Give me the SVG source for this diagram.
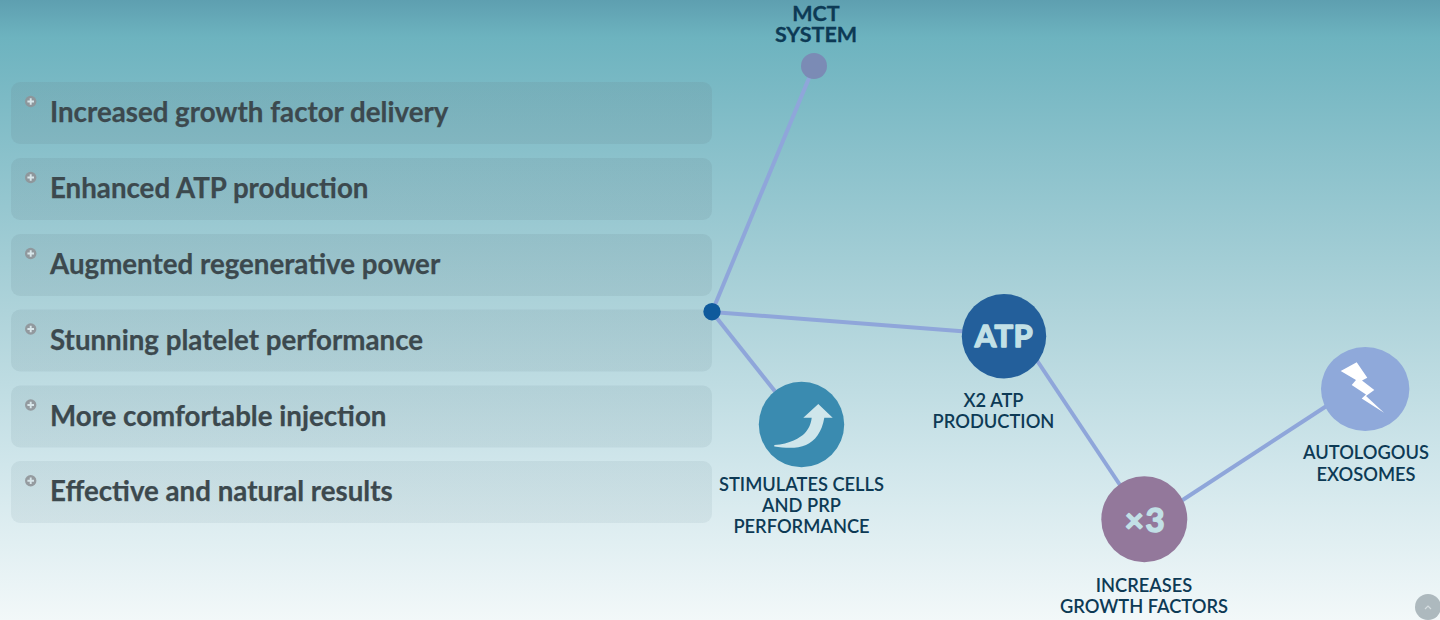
<svg xmlns="http://www.w3.org/2000/svg" width="1440" height="620" viewBox="0 0 1440 620">
<style>
.panel{fill:url(#pg)}
.item{font:700 27.700px Lato,"Liberation Sans",sans-serif;fill:#3c494e;stroke:#3c494e;stroke-width:.25}
.lab{font:600 18.300px Lato,"Liberation Sans",sans-serif;fill:#0d3a55;text-anchor:middle}
.big{font:700 31px Lato,"Liberation Sans",sans-serif;fill:#c2e0e6;stroke:#c2e0e6;stroke-width:1.500;stroke-linejoin:round;text-anchor:middle}
.conn{stroke:#8fa6da;stroke-width:4;fill:none}
.plus{fill:#8f9498;fill-opacity:.9}
.pl{stroke:#d8e6ea;stroke-width:1.900;fill:none}
</style>
<defs>
<linearGradient id="bg" x1="0" y1="0" x2="0" y2="1">
<stop offset="0" stop-color="#5e9fb0"/>
<stop offset=".06" stop-color="#6db3bf"/>
<stop offset=".25" stop-color="#8ac1cb"/>
<stop offset=".5" stop-color="#aed3da"/>
<stop offset=".75" stop-color="#d0e6eb"/>
<stop offset="1" stop-color="#f2f8f9"/>
</linearGradient>
<linearGradient id="pg" gradientUnits="userSpaceOnUse" x1="0" y1="82" x2="0" y2="523">
<stop offset="0" stop-color="#6a8a94" stop-opacity=".2"/>
<stop offset="1" stop-color="#6a8a94" stop-opacity=".11"/>
</linearGradient>
<g id="b"><circle r="5.700" class="plus"/><path class="pl" d="M-3.300 0H3.300M0-3.300V3.300"/></g>
</defs>
<rect width="1440" height="620" fill="url(#bg)"/>
<g id="list">
<g id="item1"><rect class="panel" x="11" y="82" width="701" height="62" rx="9"/><use href="#b" x="30.700" y="101.500"/><text class="item" x="50" y="122">Increased growth factor delivery</text></g>
<g id="item2"><rect class="panel" x="11" y="158" width="701" height="62" rx="9"/><use href="#b" x="30.700" y="177.500"/><text class="item" x="50" y="198">Enhanced ATP production</text></g>
<g id="item3"><rect class="panel" x="11" y="234" width="701" height="62" rx="9"/><use href="#b" x="30.700" y="253.500"/><text class="item" x="50" y="274">Augmented regenerative power</text></g>
<g id="item4"><rect class="panel" x="11" y="309.500" width="701" height="62" rx="9"/><use href="#b" x="30.700" y="329"/><text class="item" x="50" y="350">Stunning platelet performance</text></g>
<g id="item5"><rect class="panel" x="11" y="385.500" width="701" height="62" rx="9"/><use href="#b" x="30.700" y="405"/><text class="item" x="50" y="426">More comfortable injection</text></g>
<g id="item6"><rect class="panel" x="11" y="461" width="701" height="62" rx="9"/><use href="#b" x="30.700" y="480.700"/><text class="item" x="50" y="501">Effective and natural results</text></g>
</g>
<g id="connectors">
<path class="conn" d="M712 312L814 66"/>
<path class="conn" d="M712 312L1004 334.500"/>
<path class="conn" d="M712 312L801 424"/>
<path class="conn" d="M1030 350L1125 492.500"/>
<path class="conn" d="M1175 505L1335 400.500"/>
</g>
<g id="mct"><circle cx="814" cy="66" r="13" fill="#7b8bb5"/><text class="lab" style="font-size:21.500px;font-weight:700;stroke:#0d3a55;stroke-width:.3"><tspan x="816" y="20.500">MCT</tspan><tspan x="816" y="41.500">SYSTEM</tspan></text></g>
<g id="hub"><circle cx="712" cy="311.700" r="8.700" fill="#0f5a9c"/></g>
<g id="stim"><circle cx="801.500" cy="424.500" r="42.700" fill="#3a8bb0"/>
<path fill="#cfe6eb" d="M774.300 445C790 444 800 438 805 433C809 428 811 424 811.700 417.700L803.300 417.700L818.300 404L832.700 417.700L824.300 417.700C822 432 815 441 806 445C797 449 785 448 774.300 446.500Z"/>
<text class="lab"><tspan x="801.500" y="491">STIMULATES CELLS</tspan><tspan x="801.500" y="512">AND PRP</tspan><tspan x="801.500" y="533">PERFORMANCE</tspan></text></g>
<g id="atp"><circle cx="1004" cy="336.200" r="42.200" fill="#235f9b"/><text class="big" x="1004" y="346.500" style="letter-spacing:.5px">ATP</text>
<text class="lab"><tspan x="993.500" y="407">X2 ATP</tspan><tspan x="993.500" y="428">PRODUCTION</tspan></text></g>
<g id="x3"><circle cx="1144.300" cy="519.300" r="43" fill="#93789b"/><text class="big" x="1145.500" y="531.500" style="font-size:33px;letter-spacing:1.500px">×3</text>
<text class="lab"><tspan x="1144" y="592">INCREASES</tspan><tspan x="1144" y="613">GROWTH FACTORS</tspan></text></g>
<g id="exo"><ellipse cx="1365.200" cy="389" rx="44.200" ry="42" fill="#8fa9da"/>
<path fill="#fff" d="M1340.700 371L1356.700 362.300L1367.300 377.700L1362 380.500L1374.300 390L1366 396L1384 412.700L1361.700 398.500L1366 394.500L1351.700 385L1356 380Z"/>
<text class="lab"><tspan x="1366" y="459">AUTOLOGOUS</tspan><tspan x="1366" y="481">EXOSOMES</tspan></text></g>
<g id="top"><circle cx="1428" cy="607" r="13" fill="#adb9be"/><path d="M1425 609L1428 606L1431 609" fill="none" stroke="#d5dde0" stroke-width="1.200"/></g>
</svg>
